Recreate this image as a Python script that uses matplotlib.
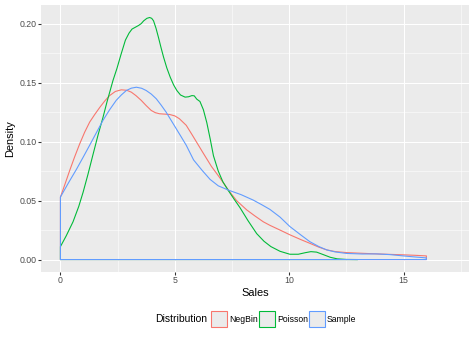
import matplotlib
matplotlib.use("Agg")
import matplotlib.pyplot as plt
from matplotlib.patches import Rectangle

plt.rcParams['font.family'] = ['Liberation Sans', 'DejaVu Sans']

# Density estimates of sales for each distribution
negbin_x = [0, 0.2, 0.41, 0.62, 0.84, 1.06, 1.28, 1.5, 1.72, 1.94, 2.15, 2.4, 2.66,
            2.9, 3.1, 3.3, 3.53, 3.75, 3.97, 4.15, 4.33, 4.55, 4.77, 5.0, 5.2, 5.5,
            5.75, 6.0, 6.25, 6.6, 6.98, 7.34, 7.7, 8.15, 8.5, 8.87, 9.16, 9.6, 10.03,
            10.5, 10.9, 11.3, 11.64, 12.0, 12.5, 13.2, 13.8, 14.4, 15.0, 15.5, 16.0]
negbin_y = [0.053, 0.064, 0.0758, 0.087, 0.098, 0.108, 0.1166, 0.123, 0.129, 0.1345,
            0.139, 0.1425, 0.1439, 0.1435, 0.1419, 0.139, 0.135, 0.1305, 0.1264,
            0.1245, 0.1236, 0.1233, 0.123, 0.1218, 0.1194, 0.1138, 0.106, 0.098,
            0.090, 0.079, 0.069, 0.059, 0.050, 0.042, 0.037, 0.032, 0.029, 0.025,
            0.021, 0.017, 0.0138, 0.0105, 0.0082, 0.0068, 0.0059, 0.0053, 0.0048,
            0.0044, 0.004, 0.0036, 0.0031]

poisson_x = [0, 0.25, 0.55, 0.8, 0.99, 1.2, 1.43, 1.65, 1.86, 2.04, 2.3, 2.47, 2.65,
             2.84, 3.0, 3.13, 3.28, 3.42, 3.53, 3.64, 3.78, 3.9, 3.99, 4.07, 4.18,
             4.29, 4.4, 4.51, 4.65, 4.8, 4.95, 5.09, 5.25, 5.45, 5.6, 5.75, 5.85,
             5.96, 6.1, 6.25, 6.4, 6.55, 6.69, 6.9, 7.1, 7.34, 7.6, 7.85, 8.2, 8.58,
             8.9, 9.2, 9.6, 10.03, 10.4, 10.7, 10.95, 11.2, 11.49, 11.8, 12.1, 12.5,
             13.0]
poisson_y = [0.011, 0.02, 0.032, 0.045, 0.057, 0.072, 0.0895, 0.106, 0.1205, 0.134,
             0.152, 0.162, 0.174, 0.186, 0.192, 0.1954, 0.197, 0.1985, 0.2, 0.2024,
             0.2045, 0.2052, 0.2045, 0.2024, 0.196, 0.188, 0.1795, 0.1715, 0.1625,
             0.1546, 0.148, 0.1433, 0.1395, 0.1377, 0.138, 0.139, 0.1388, 0.136,
             0.134, 0.127, 0.116, 0.102, 0.088, 0.075, 0.066, 0.0585, 0.051, 0.044,
             0.033, 0.022, 0.0155, 0.011, 0.007, 0.0045, 0.0045, 0.0058, 0.0067,
             0.0063, 0.0042, 0.0019, 0.0006, 0.0001, 0.0]

sample_x = [0, 0.35, 0.7, 1.0, 1.28, 1.57, 1.86, 2.15, 2.44, 2.66, 2.88, 3.1, 3.32,
            3.55, 3.75, 3.97, 4.19, 4.4, 4.62, 4.84, 5.06, 5.28, 5.5, 5.82, 6.2, 6.54,
            6.9, 7.34, 7.9, 8.43, 8.8, 9.16, 9.6, 10.03, 10.5, 10.9, 11.3, 11.64,
            12.0, 12.5, 13.2, 13.8, 14.4, 14.98, 15.5, 16.0]
sample_y = [0.053, 0.065, 0.0765, 0.087, 0.097, 0.1075, 0.118, 0.127, 0.135, 0.1395,
            0.1433, 0.1453, 0.1461, 0.1452, 0.1433, 0.1403, 0.1363, 0.131, 0.125,
            0.118, 0.111, 0.104, 0.0969, 0.0845, 0.0755, 0.068, 0.0625, 0.0589,
            0.055, 0.0504, 0.0465, 0.0425, 0.036, 0.028, 0.021, 0.0152, 0.011,
            0.0082, 0.0065, 0.0052, 0.0047, 0.0048, 0.0042, 0.0031, 0.0022, 0.0014]

labels = ["NegBin", "Poisson", "Sample"]
colors = ["#F8766D", "#00BA38", "#619CFF"]
series = [(negbin_x, negbin_y), (poisson_x, poisson_y), (sample_x, sample_y)]

x_ticks = [0, 5, 10, 15]
y_ticks = [0.00, 0.05, 0.10, 0.15, 0.20]

W, H = 474, 338
fig = plt.figure(figsize=(W / 72, H / 72), dpi=72)
fig.patch.set_facecolor("white")

left, right, top, bottom = 41, 468.7, 5, 271.7
ax = fig.add_axes([left / W, 1 - bottom / H, (right - left) / W, (bottom - top) / H])
ax.set_facecolor("#EBEBEB")
for s in ax.spines.values():
    s.set_visible(False)

ax.set_xlim(-0.85, 17.85)
ax.set_ylim(-0.0103, 0.2158)

ax.set_xticks(x_ticks)
ax.set_xticklabels([str(t) for t in x_ticks])
ax.set_yticks(y_ticks)
ax.set_yticklabels([f"{t:.2f}" for t in y_ticks])
ax.set_xticks([2.5, 7.5, 12.5, 17.5], minor=True)
ax.set_yticks([0.025, 0.075, 0.125, 0.175], minor=True)

ax.grid(which="major", color="white", linewidth=1.07)
ax.grid(which="minor", color="white", linewidth=0.53)
ax.set_axisbelow(True)
ax.tick_params(which="major", length=2.75, width=1.07, color="#333333",
               labelsize=8.8, labelcolor="#4D4D4D", pad=2)
ax.tick_params(which="minor", length=0)

# Each density outline is closed along the baseline, as a polygon
for (xs, ys), c in zip(series, colors):
    px = [xs[0]] + list(xs) + [xs[-1]]
    py = [0.0] + list(ys) + [0.0]
    ax.fill(px, py, facecolor="none", edgecolor=c, linewidth=1.1, closed=True,
            joinstyle="round")

ax.set_xlabel("Sales", fontsize=11, labelpad=3)
ax.set_ylabel("Density", fontsize=11, labelpad=4)

# Legend along the bottom
def fx(p):
    return p / W

def fy(p):
    return 1 - p / H

ky = 319
fig.text(fx(155), fy(ky), "Distribution", fontsize=10.4, ha="left", va="center")
key_left = [211, 258.5, 308.5]
for kx, lab, c in zip(key_left, labels, colors):
    fig.patches.append(Rectangle((fx(kx), fy(ky + 8)), 16 / W, 16 / H,
                                 transform=fig.transFigure, facecolor="#EBEBEB",
                                 edgecolor=c, linewidth=1.1))
    fig.text(fx(kx + 18.5), fy(ky), lab, fontsize=8.6, ha="left", va="center")

fig.savefig("out.png", dpi=72)
